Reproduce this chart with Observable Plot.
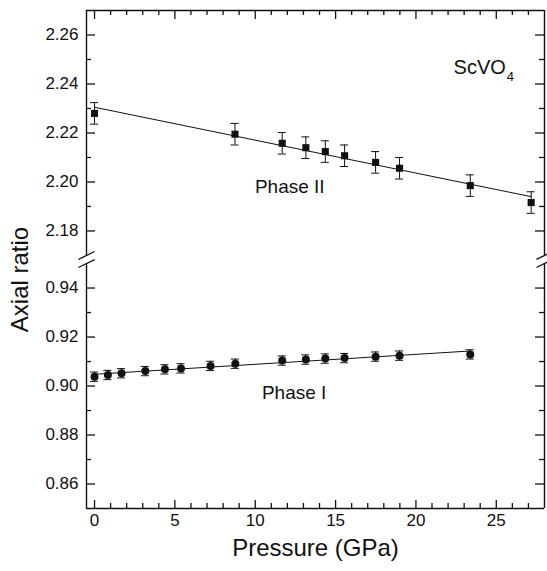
<!DOCTYPE html>
<html><head><meta charset="utf-8">
<script src="https://cdn.jsdelivr.net/npm/d3@7"></script>
<script src="https://cdn.jsdelivr.net/npm/@observablehq/plot@0.6"></script>
<style>body{margin:0;background:#fff}</style>
</head><body><div id="chart"></div>
<script>
// Phase II (squares)
const pressureII = [0.0, 8.74, 11.68, 13.15, 14.36, 15.56, 17.49, 18.98, 23.38, 27.17];
const ratioII    = [2.228, 2.2195, 2.2158, 2.214, 2.2124, 2.2107, 2.208, 2.2056, 2.1985, 2.1916];
const errII      = [0.0044, 0.0044, 0.0044, 0.0044, 0.0044, 0.0044, 0.0044, 0.0044, 0.0044, 0.0044];
// Phase I (circles)
const pressureI = [0.0, 0.83, 1.68, 3.16, 4.38, 5.38, 7.22, 8.76, 11.68, 13.15, 14.36, 15.56, 17.49, 18.98, 23.38];
const ratioI    = [0.9038, 0.9045, 0.9052, 0.9061, 0.9068, 0.9072, 0.9082, 0.9091, 0.9104, 0.9108, 0.9112, 0.9114, 0.912, 0.9124, 0.9129];
const errI      = [0.0019, 0.0019, 0.0019, 0.0019, 0.0019, 0.0019, 0.0019, 0.0019, 0.0019, 0.0019, 0.0019, 0.0019, 0.0019, 0.0019, 0.0019];
// Linear fits
const fitPressureII = [0.0, 27.17];
const fitRatioII    = [2.2305, 2.194];
const fitPressureI  = [0.0, 23.38];
const fitRatioI     = [0.9048, 0.9143];
// Ticks
const xMajorTicks = [0, 5, 10, 15, 20, 25];
const xMinorTicks = [1, 2, 3, 4, 6, 7, 8, 9, 11, 12, 13, 14, 16, 17, 18, 19, 21, 22, 23, 24, 26, 27];
const yMajorTicks = [0.86, 0.88, 0.90, 0.92, 0.94, 2.18, 2.20, 2.22, 2.24, 2.26];
const yMinorTicks = [0.87, 0.89, 0.91, 0.93, 2.19, 2.21, 2.23, 2.25];
// Axis ranges (broken y axis)
const xDomain = [-0.5, 28];
const lowerPanel = [0.85, 0.95];
const upperPanel = [2.17, 2.27];
const breakGap = 0.0033;

// map raw values onto a single continuous axis with a break
const brk = v => v > 1.5 ? v - upperPanel[0] + lowerPanel[1] + breakGap : v;

const II = pressureII.map((p, i) => ({p, r: ratioII[i], e: errII[i]}));
const I = pressureI.map((p, i) => ({p, r: ratioI[i], e: errI[i]}));
const fitII = fitPressureII.map((p, i) => ({p, r: fitRatioII[i]}));
const fitI = fitPressureI.map((p, i) => ({p, r: fitRatioI[i]}));

const W = 547, H = 571, mL = 86, mR = 3, mT = 10, mB = 63;
const fw = W - mL - mR, fh = H - mT - mB;
const capHalf = 0.25;
const ink = "#111";

const segments = [
  {x: xDomain[0], y1: lowerPanel[0], y2: lowerPanel[1]},
  {x: xDomain[0], y1: upperPanel[0], y2: upperPanel[1]},
  {x: xDomain[1], y1: lowerPanel[0], y2: lowerPanel[1]},
  {x: xDomain[1], y1: upperPanel[0], y2: upperPanel[1]}
];
const slashes = [
  {x: xDomain[0], y: upperPanel[0]}, {x: xDomain[0], y: lowerPanel[1]},
  {x: xDomain[1], y: upperPanel[0]}, {x: xDomain[1], y: lowerPanel[1]}
];
const slashDy = 0.0016;

const errMarks = (data, half) => [
  Plot.ruleX(data, {x: "p", y1: d => brk(d.r - d.e), y2: d => brk(d.r + d.e), stroke: ink, strokeWidth: 1}),
  Plot.ruleY(data, {y: d => brk(d.r - d.e), x1: d => d.p - half, x2: d => d.p + half, stroke: ink, strokeWidth: 1}),
  Plot.ruleY(data, {y: d => brk(d.r + d.e), x1: d => d.p - half, x2: d => d.p + half, stroke: ink, strokeWidth: 1})
];

const chart = Plot.plot({
  width: W, height: H,
  marginLeft: mL, marginRight: mR, marginTop: mT, marginBottom: mB,
  style: {fontFamily: "'Liberation Sans', Arial, sans-serif", background: "#fff", color: ink},
  x: {domain: xDomain, axis: null},
  y: {domain: [brk(lowerPanel[0]), brk(upperPanel[1])], axis: null},
  marks: [
    // frame
    Plot.ruleY([upperPanel[1]], {y: brk, stroke: ink, strokeWidth: 1.4}),
    Plot.ruleY([lowerPanel[0]], {y: brk, stroke: ink, strokeWidth: 1.4}),
    Plot.ruleX(segments, {x: "x", y1: d => brk(d.y1), y2: d => brk(d.y2), stroke: ink, strokeWidth: 1.4}),
    Plot.link(slashes, {x1: d => d.x - 0.5, x2: d => d.x + 0.5, y1: d => brk(d.y) - slashDy, y2: d => brk(d.y) + slashDy, stroke: ink, strokeWidth: 1.3}),
    // x ticks (inward), bottom and top
    Plot.tickX(xMajorTicks, {x: d => d, insetTop: fh - 8, stroke: ink, strokeWidth: 1.3}),
    Plot.tickX(xMinorTicks, {x: d => d, insetTop: fh - 5, stroke: ink, strokeWidth: 1.3}),
    Plot.tickX(xMajorTicks, {x: d => d, insetBottom: fh - 9, stroke: ink, strokeWidth: 1.3}),
    Plot.tickX(xMinorTicks, {x: d => d, insetBottom: fh - 5, stroke: ink, strokeWidth: 1.3}),
    // y ticks (inward), left and right
    Plot.tickY(yMajorTicks, {y: brk, insetRight: fw - 9, stroke: ink, strokeWidth: 1.3}),
    Plot.tickY(yMinorTicks, {y: brk, insetRight: fw - 5, stroke: ink, strokeWidth: 1.3}),
    Plot.tickY(yMajorTicks, {y: brk, insetLeft: fw - 9, stroke: ink, strokeWidth: 1.3}),
    Plot.tickY(yMinorTicks, {y: brk, insetLeft: fw - 5, stroke: ink, strokeWidth: 1.3}),
    // tick labels
    Plot.text(xMajorTicks, {x: d => d, text: d => String(d), frameAnchor: "bottom", dy: 17, fontSize: 17, fill: ink}),
    Plot.text(yMajorTicks, {y: brk, text: d => d.toFixed(2), frameAnchor: "left", textAnchor: "end", dx: -8, fontSize: 17, fill: ink}),
    // axis titles
    Plot.text(["Pressure (GPa)"], {frameAnchor: "bottom", textAnchor: "middle", dy: 47, fontSize: 24, fill: ink}),
    Plot.text(["Axial ratio"], {frameAnchor: "left", textAnchor: "middle", dx: -66, dy: 20, rotate: -90, fontSize: 24, fill: ink}),
    // fits
    Plot.line(fitII, {x: "p", y: d => brk(d.r), stroke: ink, strokeWidth: 1}),
    Plot.line(fitI, {x: "p", y: d => brk(d.r), stroke: ink, strokeWidth: 1}),
    // error bars
    ...errMarks(II, capHalf),
    ...errMarks(I, capHalf),
    // points
    Plot.dot(II, {x: "p", y: d => brk(d.r), symbol: "square", r: 4, fill: ink, stroke: null}),
    Plot.dot(I, {x: "p", y: d => brk(d.r), symbol: "circle", r: 4, fill: ink, stroke: null}),
    // annotations
    Plot.text(["Phase II"], {x: 12.15, y: brk(2.198), fontSize: 19, fill: ink}),
    Plot.text(["Phase I"], {x: 12.42, y: brk(0.8971), fontSize: 19, fill: ink}),
    Plot.text(["ScVO"], {x: 22.34, y: brk(2.2467), textAnchor: "start", fontSize: 20, fill: ink}),
    Plot.text(["4"], {x: 25.65, y: brk(2.2467), textAnchor: "start", dy: 9, fontSize: 13, fill: ink})
  ]
});
document.getElementById("chart").appendChild(chart);
</script>
</body></html>
